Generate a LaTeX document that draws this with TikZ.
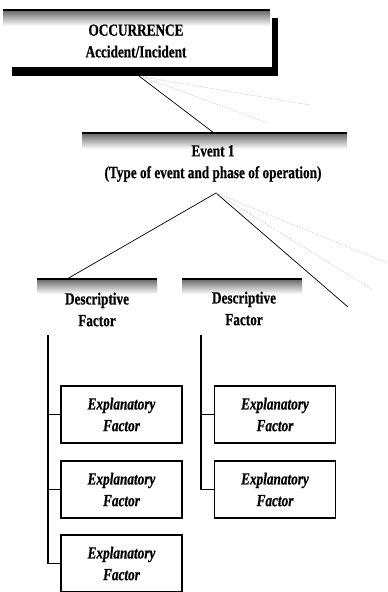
\documentclass[tikz,border=0pt]{standalone}
\usepackage{fontspec}
\setmainfont{Liberation Serif}[FakeStretch=0.78, FakeBold=0.6]
\usepackage{tikz}
\usetikzlibrary{positioning}

\tikzset{
	lbl/.style={font=\fontsize{14.5}{18.5}\selectfont\bfseries, align=center, inner sep=0pt},
	expl/.style={draw, line width=1pt, minimum width=3.63cm, minimum height=1.71cm, inner sep=0pt,
		font=\fontsize{14.5}{18.5}\selectfont\bfseries\itshape, align=center},
	band/.style={top color=black!60, bottom color=white, draw=none},
	bandline/.style={line width=0.9pt},
	faint/.style={gray!60, densely dotted, line width=0.5pt},
	link/.style={line width=0.6pt},
	trunk/.style={line width=1.2pt},
}

\begin{document}
\begin{tikzpicture}[x=0.03cm,y=-0.03cm]
	\useasboundingbox (0,0) rectangle (387,592);

	% occurrence
	\shade[band] (3,10) rectangle (270,26);
	\draw[bandline] (3,10) -- (270,10);
	\fill (272,18) rectangle (278,76);
	\fill (12,67) rectangle (278,76);
	\node[lbl] (occ) at (136,41) {OCCURRENCE\\Accident/Incident};
	\coordinate (occ-foot) at (139,76);
	\coordinate (occ-foot2) at (143,77);

	% event
	\shade[band] (82,133) rectangle (347,149);
	\draw[bandline] (82,133) -- (347,133);
	\node[lbl] (ev) at (213,163.5) {Event 1\\(Type of event and phase of operation)};
	\coordinate (ev-top) at (214,133);
	\coordinate (ev-apex) at (216,193);

	% descriptive factors
	\shade[band] (37,279) rectangle (157,294);
	\draw[bandline] (37,279) -- (157,279);
	\node[lbl] (df1) at (97,309.5) {Descriptive\\Factor};
	\coordinate (df1-top) at (67,279);

	\shade[band] (182,279) rectangle (302,294);
	\draw[bandline] (182,279) -- (302,279);
	\node[lbl] (df2) at (244,308.5) {Descriptive\\Factor};

	% explanatory factors
	\node[expl] (ex11) at (121.5,414.5) {Explanatory\\Factor};
	\node[expl] (ex12) at (121.5,489.5) {Explanatory\\Factor};
	\node[expl] (ex13) at (121.5,563.5) {Explanatory\\Factor};
	\node[expl] (ex21) at (275,414.5) {Explanatory\\Factor};
	\node[expl] (ex22) at (275,489.5) {Explanatory\\Factor};

	\coordinate (t1) at (48,335);
	\coordinate (t2) at (201,335);

	% open ends
	\coordinate (o1) at (310,105);
	\coordinate (o2) at (268,123);
	\coordinate (e1) at (348,307);
	\coordinate (e2) at (387,263);
	\coordinate (e3) at (373,290);

	\draw[link] (occ-foot) -- (ev-top);
	\draw[faint] (occ-foot2) -- (o1);
	\draw[faint] (occ-foot2) -- (o2);

	\draw[link] (df1-top) -- (ev-apex) -- (e1);
	\draw[faint] (ev-apex) -- (e2);
	\draw[faint] (ev-apex) -- (e3);

	\draw[trunk] (t1) |- (ex13.west);
	\draw[trunk] (t1) |- (ex11.west);
	\draw[trunk] (t1) |- (ex12.west);
	\draw[trunk] (t2) |- (ex22.west);
	\draw[trunk] (t2) |- (ex21.west);
\end{tikzpicture}
\end{document}
